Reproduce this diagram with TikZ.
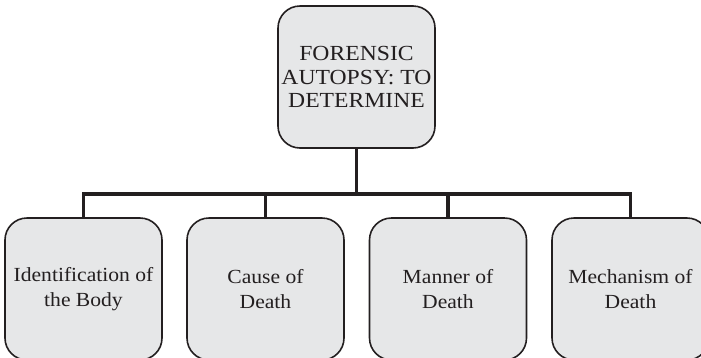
\documentclass[tikz,border=0pt]{standalone}
\usepackage{fontspec}
\setmainfont{Liberation Serif}[FakeStretch=1.08]
\newfontfamily\rootfont{Liberation Serif}[FakeStretch=1.10]
\begin{document}
\begin{tikzpicture}[x=1pt,y=-1pt,
  boxstyle/.style={draw=boxline, fill=boxfill, line width=1.6pt,
    rounded corners=22pt, minimum width=157pt, minimum height=142pt,
    inner sep=0pt, align=center, text=textcol,
    font=\fontsize{20}{25}\selectfont},
  rootstyle/.style={boxstyle, font=\rootfont\fontsize{21.5}{23.5}\selectfont},
  link/.style={draw=boxline, line width=3.6pt, line join=miter}]
\definecolor{boxfill}{HTML}{E6E7E8}
\definecolor{boxline}{HTML}{231F20}
\definecolor{textcol}{HTML}{231F20}
\useasboundingbox (0,0) rectangle (701,357);
% root
\node[rootstyle] (top) at (356.5,77) {FORENSIC\\AUTOPSY: TO\\DETERMINE};
% four outcomes
\node[boxstyle] (b1) at (83.5,289) {Identification of\\the Body};
\node[boxstyle] (b2) at (265.5,289) {Cause of\\Death};
\node[boxstyle] (b3) at (448,289) {Manner of\\Death};
\node[boxstyle] (b4) at (630.5,289) {Mechanism of\\Death};
% horizontal bus
\coordinate (bus) at (0,194);
\draw[link] (top.south) -- (top.south |- bus);
\draw[link] (b1.north) -- (b1.north |- bus) -- (b4.north |- bus) -- (b4.north);
\draw[link] (b2.north) -- (b2.north |- bus);
\draw[link] (b3.north) -- (b3.north |- bus);
\end{tikzpicture}
\end{document}
